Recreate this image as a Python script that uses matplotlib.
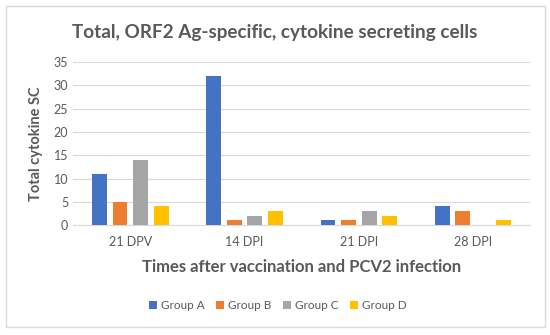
import numpy as np
import matplotlib
matplotlib.use('Agg')
from matplotlib import pyplot as plt
import matplotlib.patches as mpatches

categories = ['21 DPV', '14 DPI', '21 DPI', '28 DPI']
groups = ['Group A', 'Group B', 'Group C', 'Group D']
group_a = [11, 32, 1, 4]
group_b = [5, 1, 1, 3]
group_c = [14, 2, 3, 0]
group_d = [4, 3, 2, 1]
colors = ['#4472C4', '#ED7D31', '#A5A5A5', '#FFC000']

plt.rcParams['font.family'] = ['Lato', 'DejaVu Sans']
txt = '#595959'

fig = plt.figure(figsize=(5.5, 3.35), dpi=100)
fig.patches.append(mpatches.Rectangle((6 / 550, 8 / 335), 539 / 550, 321 / 335,
                                      transform=fig.transFigure, fill=False,
                                      edgecolor='#D9D9D9', linewidth=1))
ax = fig.add_axes([0.133, 0.328, 0.831, 0.487])

x = np.arange(len(categories))
step = 0.18
width = 0.13
for i, (vals, name) in enumerate(zip([group_a, group_b, group_c, group_d], groups)):
    ax.bar(x + (i - 1.5) * step, vals, width, color=colors[i], label=name, zorder=3)

ax.set_xlim(-0.5, 3.5)
ax.set_ylim(0, 35)
ax.set_yticks(range(0, 36, 5))
ax.set_xticks(x)
ax.set_xticklabels(categories)
ax.tick_params(length=0, colors=txt, labelsize=9)
ax.tick_params(axis='x', pad=8)
ax.grid(axis='y', color='#D9D9D9', linewidth=0.8, zorder=0)
for s in ['top', 'right', 'left']:
    ax.spines[s].set_visible(False)
ax.spines['bottom'].set_color('#D9D9D9')

ax.set_ylabel('Total cytokine SC', fontsize=10.5, fontweight='bold', color=txt, labelpad=8)
ax.set_xlabel('Times after vaccination and PCV2 infection', fontsize=12,
              fontweight='bold', color=txt, labelpad=8)
fig.text(0.5, 0.904, 'Total, ORF2 Ag-specific, cytokine secreting cells',
         ha='center', va='center', fontsize=13.6, fontweight='bold', color=txt)
fig.legend(loc='center', bbox_to_anchor=(0.505, 0.087), ncol=4, frameon=False,
           fontsize=8.5, handlelength=0.7, handleheight=0.7, handletextpad=0.3,
           columnspacing=1.0, labelcolor=txt)

fig.savefig('out.png', dpi=100)
